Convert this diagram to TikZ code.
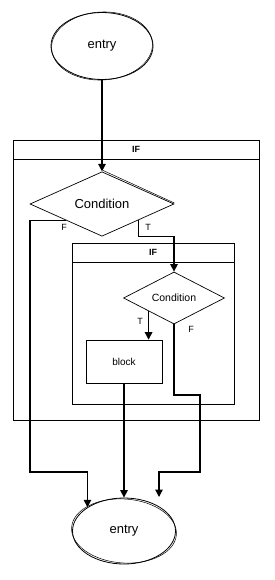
\documentclass[tikz,border=0pt]{standalone}
\usepackage{fontspec}
\setmainfont{Liberation Sans}
\usetikzlibrary{shapes.geometric,arrows.meta}
\begin{document}
\begin{tikzpicture}[x=1pt,y=-1pt,
  conn/.style={line width=1.3pt,-{Triangle[length=7.5pt,width=7.5pt]}},
  term/.style={ellipse,draw,line width=0.8pt,inner sep=0pt,minimum width=102pt,minimum height=67pt,font=\fontsize{13}{15}\selectfont},
  sketch/.style={line width=0.5pt},
  cont/.style={draw,line width=0.7pt,inner sep=0pt},
  hdr/.style={draw,line width=0.7pt,inner sep=0pt,minimum height=19pt,anchor=north,font=\fontsize{9}{11}\selectfont\bfseries},
  cond/.style={diamond,draw,line width=0.7pt,inner sep=0pt},
  lbl/.style={font=\fontsize{9}{11}\selectfont,inner sep=0pt}]
\useasboundingbox (0,0) rectangle (274,580);
\fill[white] (0,0) rectangle (274,580);
% containers
\node[cont,minimum width=246pt,minimum height=280pt] (c1) at (136,280) {};
\node[hdr,minimum width=246pt] (h1) at (c1.north) {IF};
\node[cont,minimum width=162pt,minimum height=161pt] (c2) at (153,323.5) {};
\node[hdr,minimum width=162pt] (h2) at (c2.north) {IF};
% nodes
\node[term] (e1) at (102,46) {entry};
\draw[sketch] (e1.center) ellipse [x radius=50.5pt, y radius=34pt, rotate=3];
\node[cond,minimum width=144pt,minimum height=58pt,font=\fontsize{13}{15}\selectfont] (d1) at (102,204) {Condition};
\draw[sketch] ([shift={(1,-1)}]d1.north) -- ([shift={(0,-1)}]d1.east);
\node[cond,minimum width=101pt,minimum height=41pt,font=\fontsize{10.5}{12}\selectfont] (d2) at (174,298) {Condition};
\node[draw,line width=0.7pt,minimum width=76pt,minimum height=43pt,inner sep=0pt,font=\fontsize{10}{12}\selectfont] (blk) at (124,361.5) {block};
\node[term,minimum width=103pt,minimum height=66pt] (e2) at (124,531) {entry};
\draw[sketch] (e2.center) ellipse [x radius=52.5pt, y radius=32pt, rotate=-4];
% labels
\node[lbl] (lF1) at (64,227) {F};
\node[lbl] (lT1) at (148,227) {T};
\node[lbl] (lT2) at (140,321) {T};
\node[lbl] (lF2) at (191,329) {F};
% bend points
\coordinate (f1b) at (30,472);
\coordinate (g1) at (200,395);
\coordinate (g2) at (200,472);
\coordinate (g3) at (159,497);
% connectors
\draw[conn] (e1.south) -- (d1.north);
\draw[conn] (d1.south west) -| (f1b) -- (e2.147 |- f1b) -- (e2.147);
\draw[conn] (d1.south east) |- (d1.south -| d2.north) -- (d2.north);
\draw[conn] (d2.south west) -- (d2.south west |- blk.north);
\draw[conn] (d2.south) |- (g1) -- (g2) -| (g3);
\draw[conn] (blk.south) -- (e2.north);
\end{tikzpicture}
\end{document}
